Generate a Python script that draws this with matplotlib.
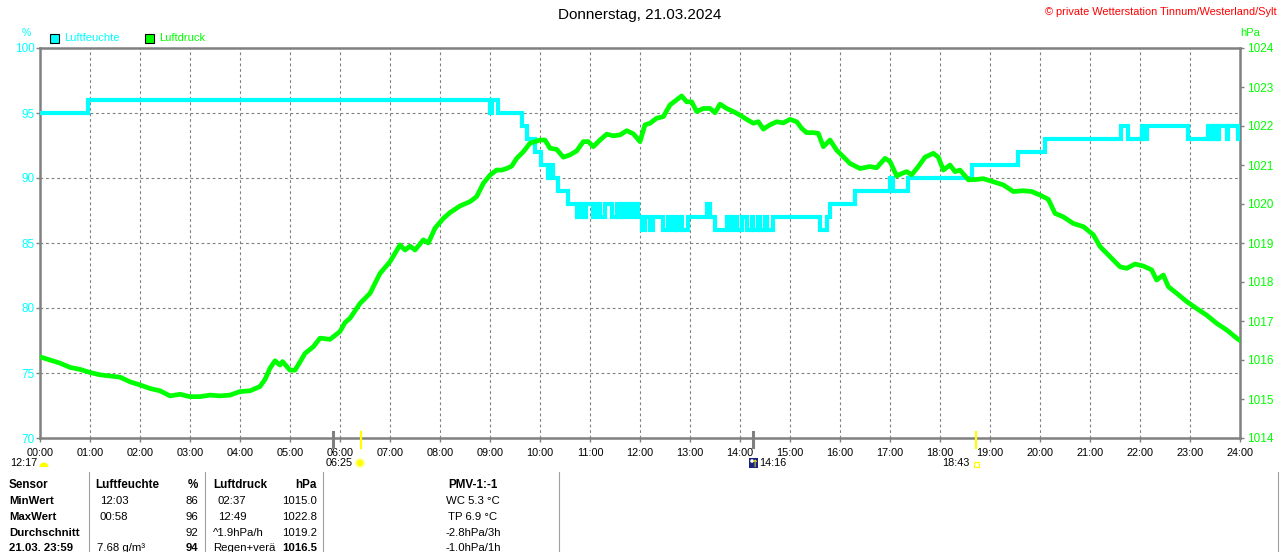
import matplotlib
matplotlib.use('Agg')
import matplotlib.pyplot as plt
import matplotlib.transforms as mtransforms
from matplotlib.patches import Wedge, Circle, Rectangle

plt.rcParams['font.family'] = ['Liberation Sans', 'DejaVu Sans']

W, H = 1280, 552

# Luftfeuchte (%), stepwise, times in minutes after midnight
hum_t = [0, 58, 540, 542, 550, 578, 584, 594, 601, 610, 613, 616, 622, 634,
         644, 649, 651, 655, 664, 668, 672, 678, 686, 692, 694, 698, 702, 706,
         710, 714, 717, 722, 726, 732, 736, 748, 754, 758, 762, 764, 768, 770,
         778, 800, 804, 810, 824, 828, 832, 836, 842, 848, 854, 856, 862, 864,
         870, 872, 880, 936, 944, 948, 978, 1020, 1024, 1042, 1118, 1174, 1206,
         1297, 1306, 1322, 1324, 1328, 1377, 1401, 1404, 1406, 1410, 1412, 1414,
         1415, 1424, 1426, 1437, 1440]
hum_v = [95, 96, 95, 96, 95, 94, 93, 92, 91, 90, 91, 90, 89, 88,
         87, 88, 87, 88, 87, 88, 87, 88, 87, 88, 87, 88, 87, 88,
         87, 88, 87, 86, 87, 86, 87, 86, 87, 86, 87, 86, 87, 86,
         87, 88, 87, 86, 87, 86, 87, 86, 87, 86, 87, 86, 87, 86,
         87, 86, 87, 86, 87, 88, 89, 90, 89, 90, 91, 92, 93,
         94, 93, 94, 93, 94, 93, 94, 93, 94, 93, 94, 93,
         94, 93, 94, 93, 93]

# Luftdruck (hPa)
druck_t = [0, 12, 24, 36, 48, 60, 72, 84, 96, 108, 120, 132, 144, 156, 168,
           180, 192, 204, 216, 228, 240, 252, 264, 270, 276, 282, 288, 291, 300,
           306, 312, 318, 328, 336, 348, 360, 366, 372, 384, 396, 408, 420, 432,
           438, 444, 450, 460, 466, 474, 484, 492, 504, 516, 524, 532, 540, 548,
           554, 560, 566, 572, 580, 588, 594, 600, 606, 612, 620, 628, 636, 644,
           652, 658, 664, 672, 680, 688, 696, 704, 712, 720, 726, 732, 740, 748,
           756, 764, 770, 776, 782, 788, 796, 804, 810, 816, 824, 832, 840, 848,
           856, 862, 868, 876, 884, 892, 900, 908, 914, 920, 928, 934, 940, 948,
           956, 964, 972, 984, 996, 1004, 1014, 1020, 1028, 1034, 1040, 1046,
           1054, 1062, 1072, 1078, 1084, 1092, 1098, 1104, 1114, 1124, 1132,
           1144, 1156, 1168, 1180, 1190, 1200, 1210, 1218, 1228, 1240, 1252,
           1264, 1272, 1284, 1296, 1304, 1314, 1324, 1334, 1340, 1348, 1354,
           1364, 1376, 1388, 1400, 1412, 1424, 1436, 1440]
druck_v = [1016.08, 1016.00, 1015.92, 1015.81, 1015.76, 1015.68, 1015.62,
           1015.59, 1015.56, 1015.44, 1015.36, 1015.27, 1015.21, 1015.08,
           1015.12, 1015.06, 1015.06, 1015.10, 1015.08, 1015.10, 1015.19,
           1015.21, 1015.32, 1015.50, 1015.79, 1015.98, 1015.87, 1015.96,
           1015.74, 1015.74, 1015.95, 1016.17, 1016.34, 1016.56, 1016.53,
           1016.73, 1016.96, 1017.07, 1017.45, 1017.71, 1018.22, 1018.52,
           1018.95, 1018.82, 1018.92, 1018.82, 1019.08, 1019.00, 1019.38,
           1019.63, 1019.78, 1019.95, 1020.06, 1020.19, 1020.53, 1020.74,
           1020.87, 1020.87, 1020.91, 1020.97, 1021.17, 1021.34, 1021.56,
           1021.60, 1021.64, 1021.64, 1021.43, 1021.40, 1021.20, 1021.26,
           1021.36, 1021.60, 1021.60, 1021.47, 1021.64, 1021.79, 1021.75,
           1021.77, 1021.88, 1021.80, 1021.60, 1022.03, 1022.07, 1022.20,
           1022.24, 1022.54, 1022.67, 1022.77, 1022.62, 1022.62, 1022.37,
           1022.45, 1022.45, 1022.34, 1022.56, 1022.45, 1022.37, 1022.28,
           1022.17, 1022.07, 1022.11, 1021.92, 1022.03, 1022.11, 1022.08,
           1022.17, 1022.11, 1021.94, 1021.83, 1021.83, 1021.81, 1021.47,
           1021.64, 1021.38, 1021.21, 1021.04, 1020.91, 1020.96, 1020.93,
           1021.17, 1021.09, 1020.72, 1020.78, 1020.83, 1020.75, 1020.96,
           1021.20, 1021.30, 1021.20, 1020.87, 1021.00, 1020.83, 1020.87,
           1020.62, 1020.63, 1020.65, 1020.57, 1020.49, 1020.32, 1020.34,
           1020.32, 1020.23, 1020.12, 1019.76, 1019.67, 1019.50, 1019.42,
           1019.21, 1018.91, 1018.65, 1018.39, 1018.35, 1018.46, 1018.41,
           1018.31, 1018.05, 1018.18, 1017.88, 1017.71, 1017.50, 1017.32,
           1017.15, 1016.94, 1016.77, 1016.56, 1016.50]

hour_labels = ['%02d:00' % h for h in range(25)]
hum_ticks = [70, 75, 80, 85, 90, 95, 100]
druck_ticks = list(range(1014, 1025))

# sun / moon marks on the time axis (minutes)
dark_marks = [352, 856]
sun_marks = [385, 1123]

# table at bottom
tab_head = ['Sensor', 'Luftfeuchte', '%', 'Luftdruck', 'hPa', 'PMV-1:-1']
tab_rows = [
    ['MinWert', '12:03', '86', '02:37', '1015.0', 'WC 5.3 °C'],
    ['MaxWert', '00:58', '96', '12:49', '1022.8', 'TP 6.9 °C'],
    ['Durchschnitt', '', '92', '^1.9hPa/h', '1019.2', '-2.8hPa/3h'],
    ['21.03. 23:59', '7.68 g/m³', '94', 'Regen+verä', '1016.5', '-1.0hPa/1h'],
]

CYAN = '#00FFFF'
GREEN = '#00FF00'
GRAY = '#808080'
YELLOW = '#FFFF00'


def px(x, y):
    return x / W, 1 - y / H


fig = plt.figure(figsize=(12.8, 5.52), dpi=100)
ax = fig.add_axes([40 / W, (H - 438) / H, 1200 / W, 390 / H])
ax.set_xlim(0, 1440)
ax.set_ylim(70, 100)

ax.set_xticks(range(0, 1441, 60))
ax.set_xticklabels(hour_labels, fontsize=7.8)
ax.set_yticks(hum_ticks)
ax.set_yticklabels([str(v) for v in hum_ticks], fontsize=8.5, color=CYAN)
ax.tick_params(axis='x', length=3, width=1, color=GRAY, pad=4)
ax.tick_params(axis='y', length=3, width=1, color=GRAY, pad=1)

for x in range(60, 1440, 60):
    ax.axvline(x, color=GRAY, lw=0.8, dashes=(2.5, 2.5), zorder=0)
for y in [75, 80, 85, 90, 95]:
    ax.axhline(y, color=GRAY, lw=0.8, dashes=(2.5, 2.5), zorder=0)

for s in ax.spines.values():
    s.set_color(GRAY)
    s.set_linewidth(1.8)

ax.step(hum_t, hum_v, where='post', color=CYAN, lw=3, solid_joinstyle='miter',
        zorder=3)

ax2 = ax.twinx()
ax2.set_ylim(1014, 1024)
ax2.set_yticks(druck_ticks)
ax2.set_yticklabels([str(v) for v in druck_ticks], fontsize=8.5, color=GREEN)
ax2.tick_params(axis='y', length=3, width=1, color=GRAY, pad=2)
for s in ax2.spines.values():
    s.set_visible(False)
ax2.plot(druck_t, druck_v, color=GREEN, lw=3.4, zorder=4)

# sun / moon marks below axis
trans = mtransforms.blended_transform_factory(ax.transData, ax.transAxes)
for m in dark_marks:
    ax.plot([m, m], [0.015, -0.022], color=GRAY, lw=2.2, transform=trans,
            clip_on=False, zorder=5)
for m in sun_marks:
    ax.plot([m, m], [0.015, -0.025], color=YELLOW, lw=1.6, transform=trans,
            clip_on=False, zorder=6)

# icons, drawn in pixel coordinates (y from top)
ident = mtransforms.IdentityTransform()
fig.add_artist(Wedge((44, H - 467), 4.5, 0, 180, facecolor=YELLOW,
                     edgecolor='none', transform=ident))
fig.add_artist(Circle((360, H - 463), 5.5, facecolor='#FFFFC0',
                      edgecolor='none', transform=ident))
fig.add_artist(Circle((360, H - 463), 3.5, facecolor=YELLOW,
                      edgecolor='none', transform=ident))
fig.add_artist(Rectangle((749, H - 468), 9, 10, facecolor='#1A237E',
                         edgecolor='none', transform=ident))
fig.add_artist(Circle((752, H - 461), 1.8, facecolor='white',
                      edgecolor='none', transform=ident))
fig.add_artist(Rectangle((973.5, H - 467), 5, 5, fill=False,
                         edgecolor=YELLOW, lw=0.9, transform=ident))
fig.text(*px(755.5, 464), '\u2191', ha='center', va='center', fontsize=7,
         color=YELLOW, family=['DejaVu Sans'])

fig.text(*px(37, 463), '12:17', ha='right', va='center', fontsize=7.8)
fig.text(*px(353, 463), '06:25', ha='right', va='center', fontsize=7.8)
fig.text(*px(759, 463), '14:16', ha='left', va='center', fontsize=7.8)
fig.text(*px(970, 463), '18:43', ha='right', va='center', fontsize=7.8)

# header
fig.text(*px(640, 15), 'Donnerstag, 21.03.2024', ha='center', va='center',
         fontsize=11)
fig.text(*px(1277, 12), '\u00A9 private Wetterstation Tinnum/Westerland/Sylt',
         ha='right', va='center', fontsize=7.9, color='red')
fig.text(*px(26, 33), '%', ha='center', va='center', fontsize=7.5, color=CYAN)
fig.text(*px(1240, 33), 'hPa', ha='left', va='center', fontsize=8, color=GREEN)

# legend
fig.add_artist(Rectangle((50, H - 43), 9, 9, facecolor=CYAN,
                         edgecolor='black', lw=0.8, transform=ident))
fig.text(*px(64, 38), 'Luftfeuchte', ha='left', va='center', fontsize=8,
         color=CYAN)
fig.add_artist(Rectangle((145, H - 43), 9, 9, facecolor=GREEN,
                         edgecolor='black', lw=0.8, transform=ident))
fig.text(*px(159, 38), 'Luftdruck', ha='left', va='center', fontsize=8,
         color=GREEN)

# table
for xs in [89, 205, 323, 559, 1278]:
    fig.add_artist(plt.Line2D([xs / W, xs / W], [1 - 472 / H, 0],
                              color='#A0A0A0', lw=0.8))

row_y = [485, 501, 517, 533, 548]
hx = [(9, 'left'), (95, 'left'), (198, 'right'), (213, 'left'),
      (317, 'right'), (473, 'center')]
for (x, ha), t in zip(hx, tab_head):
    fig.text(*px(x, row_y[0]), t, ha=ha, va='center', fontsize=8.4,
             fontweight='bold')

cx = [(9, 'left'), (100, 'left'), (198, 'right'), (218, 'left'),
      (317, 'right'), (473, 'center')]
for i, row in enumerate(tab_rows):
    y = row_y[i + 1]
    last = i == len(tab_rows) - 1
    for j, ((x, ha), t) in enumerate(zip(cx, row)):
        bold = j == 0 or (last and j in (2, 4))
        if last and j == 1:
            x = 97
        if j == 3 and t.startswith(('^', 'R')):
            x = 213
        fig.text(*px(x, y), t, ha=ha, va='center', fontsize=8.2,
                 fontweight='bold' if bold else 'normal')

fig.savefig('out.png', dpi=100, facecolor='white')
